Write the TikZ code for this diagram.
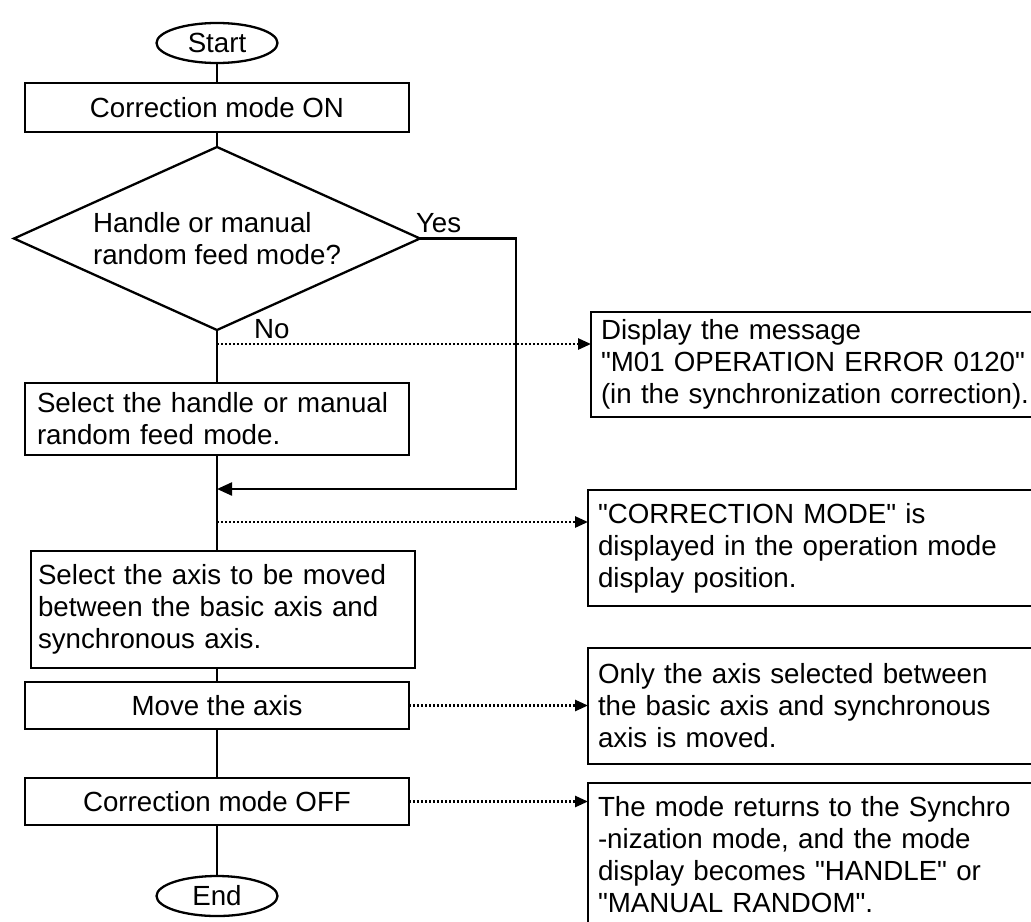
\documentclass[tikz,border=0pt]{standalone}
\usepackage{fontspec}
\setmainfont{Liberation Sans}[Ligatures=TeXOff]
\usetikzlibrary{arrows.meta, positioning, shapes.geometric}
\tikzset{
  term/.style={draw, ellipse, minimum width=60.5pt, minimum height=20pt, inner sep=1pt},
  pbox/.style={draw, minimum width=192pt, inner sep=0pt, align=center},
  tbox/.style={draw, text width=180pt, inner xsep=6pt, inner ysep=0pt, align=left},
  ask/.style={draw, diamond, aspect=2.2, minimum width=203pt, minimum height=91.5pt,
    inner sep=0pt, align=left},
  note/.style={draw, anchor=north west, text width=240pt, inner xsep=5pt, inner ysep=0pt,
    align=left},
  lbl/.style={anchor=base west, inner sep=0pt},
  flow/.style={-{Triangle[length=7.5pt, width=6.5pt]}},
  info/.style={-{Triangle[length=6.5pt, width=5.5pt]}, line width=1.3pt,
    dash pattern=on 1pt off 1pt},
}
\begin{document}
\begin{tikzpicture}[x=0.5pt, y=-0.5pt, line width=1.15pt, outer sep=0pt,
    font=\fontsize{13.85pt}{16pt}\selectfont]
    \useasboundingbox[fill=white] (0,0) rectangle (1031,921);
    \clip (0,0) rectangle (1031,921);

    % main flow
    \node[term] (start) at (217,43) {Start};
    \node[pbox, minimum height=24.5pt, below=10pt of start] (on) {Correction mode ON};
    \node[ask, below=7.5pt of on] (mode) {Handle or manual\\random feed mode?};
    \node[tbox, minimum height=36pt, below=26.5pt of mode] (hand)
      {Select the handle or manual\\random feed mode.};
    \node[tbox, text width=185pt, inner xsep=3.5pt, minimum height=58.5pt,
      below=48pt of hand, xshift=3pt] (pick)
      {Select the axis to be moved\\between the basic axis and\\synchronous axis.};
    \node[pbox, minimum height=23.5pt, below=7pt of pick, xshift=-3pt] (move) {Move the axis};
    \node[pbox, minimum height=23.5pt, below=24.5pt of move] (off) {Correction mode OFF};
    \node[term, below=25.5pt of off] (stop) {End};

    \node[lbl] (yes) at (416,232) {Yes};
    \node[lbl] (no) at (254,338) {No};

    % messages on the right
    \node[note, minimum height=52.5pt] (err) at (591,312)
      {Display the message\\"M01 OPERATION ERROR 0120"\\(in the synchronization correction).};
    \node[note, minimum height=58pt] (disp) at (588,490)
      {"CORRECTION MODE" is\\displayed in the operation mode\\display position.};
    \node[note, minimum height=58pt] (only) at (588,648)
      {Only the axis selected between\\the basic axis and synchronous\\axis is moved.};
    \node[note, minimum height=71.5pt] (back) at (588,783)
      {The mode returns to the Synchro\\-nization mode, and the mode\\display becomes "HANDLE" or\\"MANUAL RANDOM".};

    \path (mode.south) ++(0,14) coordinate (nopt);
    \path (hand.south) ++(0,34) coordinate (join);
    \path (hand.south) ++(0,67) coordinate (cmode);

    \draw (start) -- (on);
    \draw (on) -- (mode);
    \draw (mode) -- (hand);
    \draw (hand.south) -- (hand.south |- pick.north);
    \draw (move.north |- pick.south) -- (move);
    \draw (move) -- (off);
    \draw (off) -- (stop);
    \draw[flow] (mode.east) -- ++(96,0) |- (join);

    \draw[info] (nopt) -- (nopt -| err.west);
    \draw[info] (cmode) -- (cmode -| disp.west);
    \draw[info] (move.east) -- (move.east -| only.west);
    \draw[info] (off.east) -- (off.east -| back.west);
\end{tikzpicture}
\end{document}
